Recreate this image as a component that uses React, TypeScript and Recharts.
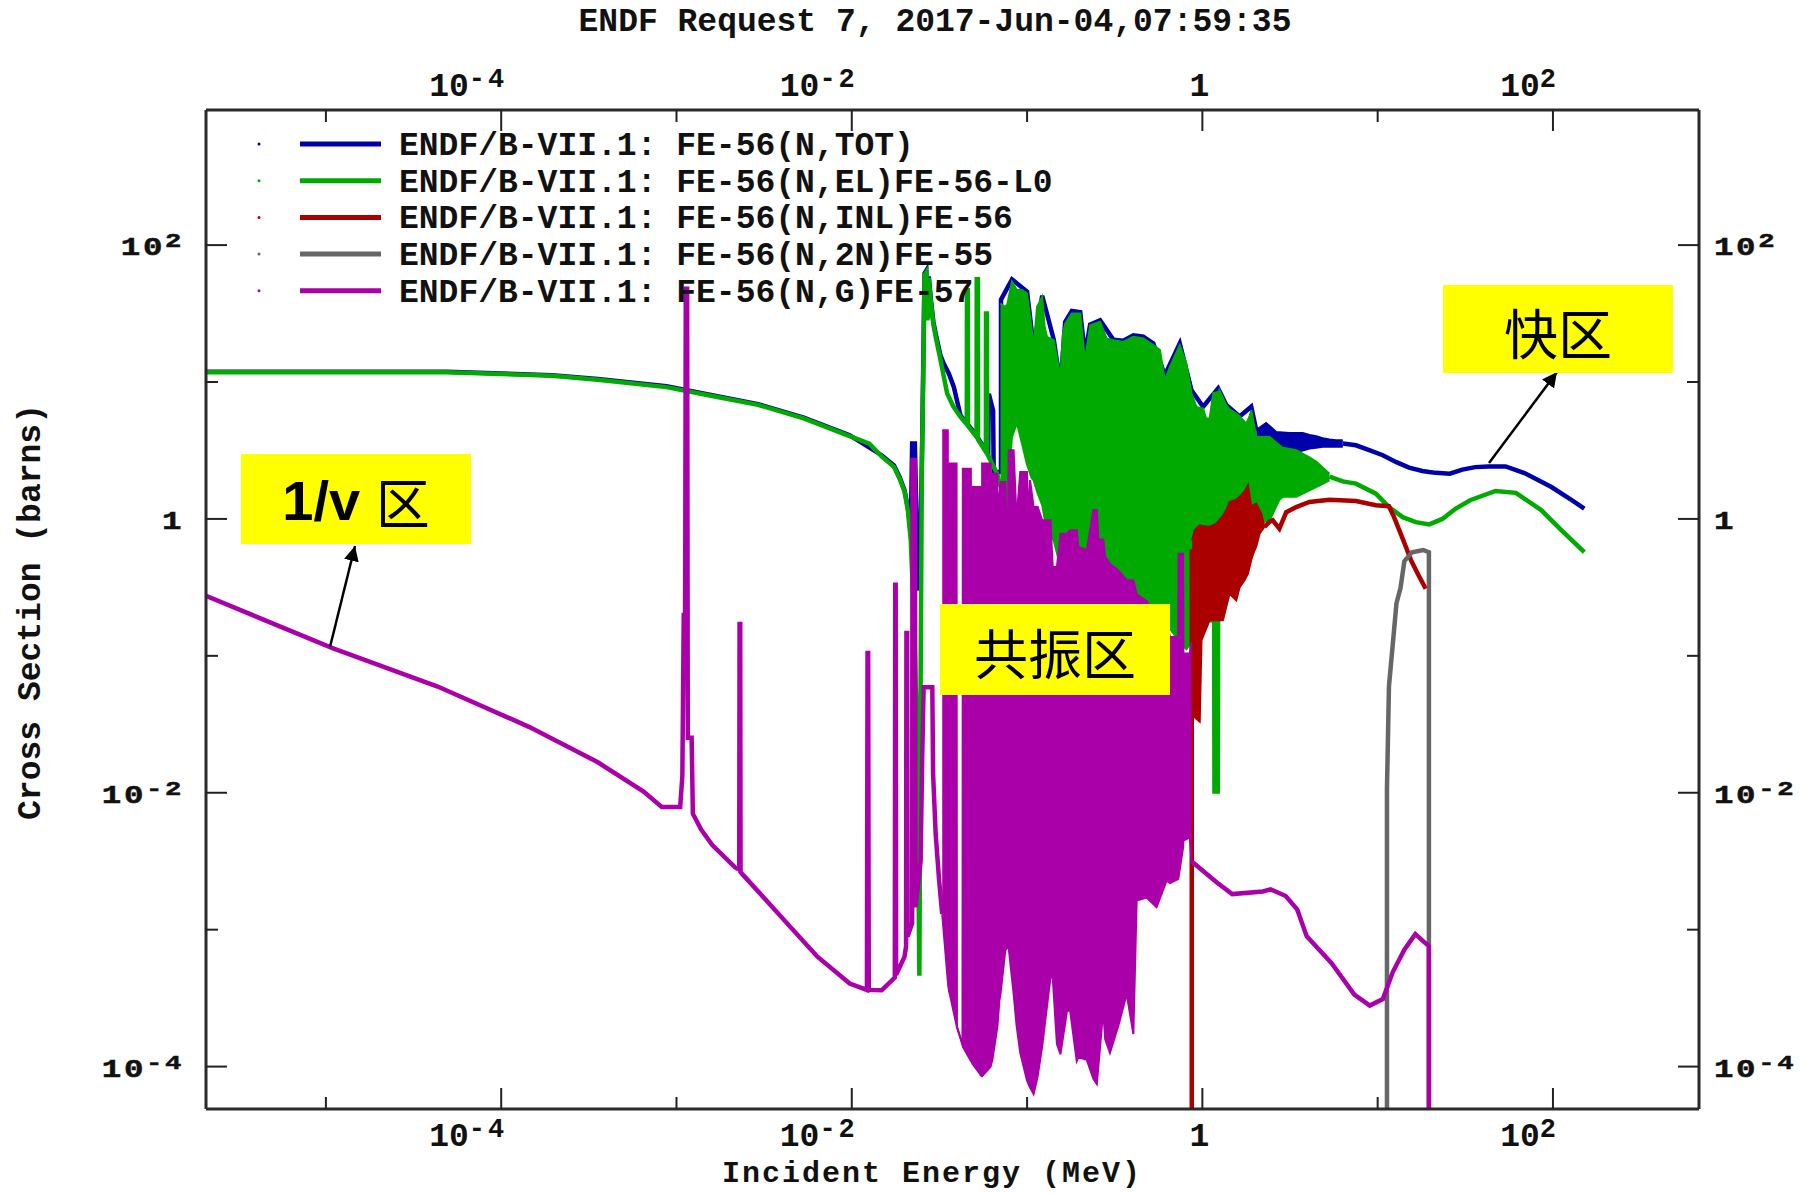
import React from 'react';
import { ComposedChart, Line, Area, XAxis, YAxis } from 'recharts';

const W = 1812;
const H = 1193;

// axis ranges (MeV, barns)
const energyDomain: [number, number] = [2.07e-6, 681];
const xsDomain: [number, number] = [4.9e-5, 970];
const energyTicks = [1e-5, 1e-4, 1e-3, 1e-2, 1e-1, 1, 10, 100];
const xsTicks = [1e-4, 1e-3, 1e-2, 1e-1, 1, 10, 100];

const COLORS = {
  tot: '#0000aa',
  el: '#00aa00',
  inl: '#aa0000',
  n2n: '#666666',
  ng: '#aa00aa',
};

const legendLabels = [
  'ENDF/B-VII.1: FE-56(N,TOT)',
  'ENDF/B-VII.1: FE-56(N,EL)FE-56-L0',
  'ENDF/B-VII.1: FE-56(N,INL)FE-56',
  'ENDF/B-VII.1: FE-56(N,2N)FE-55',
  'ENDF/B-VII.1: FE-56(N,G)FE-57',
];
const legendColors = [COLORS.tot, COLORS.el, COLORS.inl, COLORS.n2n, COLORS.ng];

// ---- FE-56(N,TOT) ----
const totalLow: [number, number][] = [
  [2.07e-6, 11.9], [4.89e-5, 11.9], [1.95e-4, 11.2], [3.56e-4, 10.5], [8.77e-4, 9.3],
  [1.6e-3, 8.0], [2.92e-3, 6.9], [5.32e-3, 5.5], [9.73e-3, 4.08], [1.48e-2, 2.92],
  [1.74e-2, 2.46], [1.88e-2, 2.0], [2.0e-2, 1.62], [2.09e-2, 1.2], [2.17e-2, 0.79],
  [2.21e-2, 3.55], [2.29e-2, 3.55], [2.36e-2, 0.6], [2.43e-2, 0.3], [2.51e-2, 2.5],
  [2.6e-2, 62], [2.66e-2, 65], [2.7e-2, 29], [2.75e-2, 59], [2.82e-2, 41],
  [2.92e-2, 27.5], [3.01e-2, 22.5], [3.21e-2, 15.5], [3.35e-2, 13.6], [3.58e-2, 11.5],
  [3.82e-2, 9.2], [4.17e-2, 5.7], [4.97e-2, 4.3], [6.0e-2, 3.0], [6.05e-2, 8.2],
  [6.4e-2, 6.2], [6.45e-2, 2.2], [7.1e-2, 2.2], [7.1e-2, 40], [8.2e-2, 56.2],
  [0.1, 45.7], [0.109, 17.8], [0.122, 42.7], [0.142, 20.4], [0.155, 9.5],
  [0.165, 27.5], [0.18, 33.1], [0.201, 32.4], [0.214, 15.8], [0.229, 26.3],
  [0.261, 28.2], [0.31, 20.4], [0.354, 20.0], [0.404, 21.9], [0.46, 21.4],
  [0.525, 19.1], [0.611, 11.2], [0.743, 19.1], [0.867, 8.7], [1.01, 6.6],
  [1.23, 9.0], [1.37, 6.8], [1.63, 5.6], [1.9, 6.6], [2.03, 4.45],
];
const totalBand: [number, number, number][] = [
  [2.03, 3.36, 4.45], [2.31, 3.55, 5.02], [2.64, 3.36, 4.32], [3.14, 3.16, 4.25],
  [3.43, 3.08, 4.25], [3.74, 3.16, 4.25], [4.08, 3.27, 4.11], [4.46, 3.31, 4.02],
  [4.86, 3.36, 3.89], [5.31, 3.36, 3.8], [5.79, 3.36, 3.76], [6.32, 3.36, 3.76],
];
const totalFast: [number, number][] = [
  [6.32, 3.55], [7.52, 3.45], [8.95, 3.18], [10.7, 2.92], [12.7, 2.61], [15.1, 2.37],
  [18.0, 2.24], [19.7, 2.2], [21.4, 2.17], [25.8, 2.14], [30.4, 2.29], [36.0, 2.39],
  [42.7, 2.42], [53.7, 2.42], [70.1, 2.14], [98.0, 1.71], [128, 1.37], [151, 1.19],
];

// ---- FE-56(N,EL) ----
const elasticLow: [number, number][] = [
  [2.07e-6, 11.8], [4.89e-5, 11.8], [1.95e-4, 11.1], [3.56e-4, 10.4], [8.77e-4, 9.18],
  [1.6e-3, 7.91], [2.92e-3, 6.81], [5.32e-3, 5.43], [9.73e-3, 4.02], [1.26e-2, 3.55],
  [1.48e-2, 2.86], [1.74e-2, 2.4], [1.88e-2, 1.95], [2.0e-2, 1.58], [2.09e-2, 1.15],
  [2.17e-2, 0.698], [2.26e-2, 0.2], [2.36e-2, 0.0251], [2.43e-2, 4.61e-4], [2.47e-2, 0.0631],
  [2.51e-2, 2.4], [2.56e-2, 12.6], [2.6e-2, 60.3], [2.66e-2, 63.1], [2.7e-2, 28.2],
  [2.75e-2, 57.5], [2.82e-2, 39.8], [2.92e-2, 26.3], [3.01e-2, 21.4], [3.21e-2, 14.4],
  [3.5e-2, 8.24], [3.8e-2, 6.61], [4.17e-2, 5.56], [4.53e-2, 4.9], [4.54e-2, 46.8],
  [4.59e-2, 46.8], [4.6e-2, 4.79], [4.97e-2, 4.2], [5.15e-2, 3.98], [5.16e-2, 56.2],
  [5.24e-2, 56.2], [5.25e-2, 3.8], [5.82e-2, 3.09], [5.83e-2, 31.6], [5.9e-2, 31.6],
  [5.92e-2, 3.0], [6.75e-2, 2.14], [7.05e-2, 1.71],
];
const elasticBand: [number, number, number][] = [
  [7.05e-2, 1.7, 37.5], [7.41e-2, 1.12, 35.5], [7.69e-2, 1.26, 36.4], [8.2e-2, 3.98, 54.0],
  [8.75e-2, 5.01, 46.9], [9.35e-2, 3.55, 46.9], [9.98e-2, 2.51, 44.4], [0.106, 2.0, 25.1],
  [0.109, 1.91, 18.1], [0.114, 1.58, 35.5], [0.122, 1.26, 41.9], [0.126, 1.0, 25.1],
  [0.13, 0.871, 21.4], [0.142, 0.692, 20.2], [0.155, 0.447, 10.9], [0.16, 0.501, 22.4],
  [0.165, 0.631, 26.7], [0.18, 0.708, 31.6], [0.201, 0.562, 31.6], [0.214, 0.501, 14.4],
  [0.229, 0.501, 26.0], [0.261, 0.447, 27.5], [0.284, 0.398, 20.8], [0.31, 0.398, 20.2],
  [0.354, 0.355, 19.6], [0.404, 0.282, 21.4], [0.46, 0.251, 20.8], [0.525, 0.2, 18.6],
  [0.573, 0.178, 17.1], [0.611, 0.158, 10.3], [0.653, 0.158, 12.9], [0.743, 0.126, 18.6],
  [0.811, 0.112, 13.6], [0.867, 0.126, 8.24], [0.925, 0.0794, 6.58], [1.01, 0.282, 6.4],
  [1.05, 0.2, 5.41], [1.1, 0.178, 5.41], [1.148, 0.178, 7.94], [1.153, 0.01, 8.32],
  [1.245, 0.01, 8.51], [1.25, 0.182, 8.71], [1.37, 0.251, 6.76], [1.43, 0.318, 6.31],
  [1.56, 0.398, 5.89], [1.63, 0.446, 5.62], [1.78, 0.479, 4.97], [1.86, 0.498, 5.62],
  [1.9, 0.631, 6.22], [2.03, 0.923, 3.97], [2.42, 0.977, 3.97], [2.75, 1.38, 3.45],
  [2.88, 1.45, 3.31], [3.43, 1.45, 3.18], [4.08, 1.62, 2.82], [4.46, 1.71, 2.63],
  [5.31, 1.91, 2.14],
];
const elasticFast: [number, number][] = [
  [5.31, 2.04], [6.32, 1.88], [7.52, 1.81], [9.77, 1.53], [11.6, 1.22], [13.9, 1.03],
  [16.5, 0.948], [19.7, 0.912], [23.4, 1.0], [27.9, 1.19], [33.7, 1.37], [47.0, 1.6],
  [61.5, 1.55], [85.7, 1.16], [112, 0.826], [151, 0.573],
];

// ---- FE-56(N,INL) ----
const inelasticEdge: [number, number][] = [[0.87, 1e-5], [0.87, 0.6]];
const inelasticBand: [number, number, number][] = [
  [0.875, 0.0378, 0.698], [0.905, 0.0355, 0.826], [0.966, 0.0331, 0.897], [0.989, 0.13, 0.891],
  [1.1, 0.182, 0.873], [1.2, 0.182, 0.923], [1.31, 0.182, 1.05], [1.37, 0.229, 1.16],
  [1.43, 0.284, 1.33], [1.56, 0.254, 1.38], [1.63, 0.316, 1.45], [1.74, 0.356, 1.58],
  [1.82, 0.398, 1.76], [1.9, 0.501, 1.22], [1.95, 0.557, 1.26], [2.03, 0.631, 1.29],
  [2.12, 0.78, 1.15], [2.17, 0.813, 1.09], [2.26, 0.873, 0.873],
];
const inelasticTail: [number, number][] = [
  [2.26, 0.873], [2.42, 0.955], [2.52, 0.977], [2.75, 0.849], [3.01, 1.12], [3.43, 1.22],
  [4.08, 1.33], [5.31, 1.38], [7.52, 1.35], [9.77, 1.26], [11.6, 1.24], [12.4, 1.03],
  [13.3, 0.826], [14.5, 0.624], [15.5, 0.498], [17.3, 0.377], [18.8, 0.309],
];

// ---- FE-56(N,2N) ----
const n2nCurve: [number, number][] = [
  [11.3, 1e-5], [11.3, 0.0107], [11.6, 0.06], [12.2, 0.122], [12.8, 0.242], [13.5, 0.313],
  [14.2, 0.492], [15.7, 0.571], [18.2, 0.593], [19.6, 0.571], [19.6, 1e-5],
];

// ---- FE-56(N,G) ----
const captureLow: [number, number][] = [
  [2.07e-6, 0.274], [1.09e-5, 0.114], [4.34e-5, 0.0597], [1.44e-4, 0.0303], [3.56e-4, 0.0167],
  [6.49e-4, 0.0102], [8.24e-4, 7.87e-3], [1.05e-3, 7.87e-3], [1.08e-3, 0.0133], [1.1e-3, 0.199],
  [1.12e-3, 0.199], [1.13e-3, 47.9], [1.15e-3, 47.9], [1.16e-3, 0.0252], [1.22e-3, 0.0252],
  [1.24e-3, 7.03e-3], [1.38e-3, 5.4e-3], [1.6e-3, 4.15e-3], [2.16e-3, 2.85e-3], [2.28e-3, 2.75e-3],
  [2.29e-3, 0.171], [2.31e-3, 0.171], [2.32e-3, 2.63e-3], [2.44e-3, 2.45e-3], [3.94e-3, 1.25e-3],
  [6.37e-3, 6.35e-4], [9.73e-3, 4.04e-4], [1.22e-2, 3.63e-4], [1.23e-2, 0.105], [1.24e-2, 0.105],
  [1.25e-2, 3.63e-4], [1.48e-2, 3.61e-4], [1.76e-2, 4.47e-4], [1.77e-2, 0.33], [1.78e-2, 0.33],
  [1.79e-2, 4.68e-4], [2.0e-2, 6.35e-4], [2.04e-2, 7.59e-4], [2.05e-2, 0.147], [2.07e-2, 0.147],
  [2.08e-2, 8.91e-4], [2.17e-2, 1.04e-3], [2.21e-2, 1.12e-3], [2.22e-2, 2.69], [2.29e-2, 2.69],
  [2.31e-2, 1.46e-3], [2.47e-2, 3.19e-3], [2.52e-2, 0.0172], [2.57e-2, 0.0589], [2.88e-2, 0.059],
  [2.91e-2, 0.0137], [3.01e-2, 5.0e-3], [3.15e-2, 2.28e-3], [3.28e-2, 1.3e-3],
];
const captureBand: [number, number, number][] = [
  [3.28e-2, 1.3e-3, 4.45], [3.53e-2, 4.2e-4, 4.45], [3.55e-2, 4.0e-4, 4.0e-4], [3.6e-2, 3.5e-4, 3.5e-4],
  [3.62e-2, 3.4e-4, 2.54], [3.96e-2, 2.0e-4, 2.54], [3.98e-2, 1.95e-4, 1.95e-4], [4.28e-2, 1.45e-4, 1.45e-4],
  [4.3e-2, 1.4e-4, 2.33], [4.78e-2, 1.1e-4, 2.33], [4.8e-2, 1.1e-4, 4e-4], [4.88e-2, 1.05e-4, 4e-4],
  [4.9e-2, 1.04e-4, 1.71], [5.4e-2, 8.8e-5, 1.71], [5.42e-2, 8.7e-5, 3e-4], [5.52e-2, 8.5e-5, 3e-4],
  [5.54e-2, 8.5e-5, 2.54], [6.2e-2, 1.0e-4, 2.54], [6.22e-2, 1.03e-4, 5e-4], [6.32e-2, 1.1e-4, 5e-4],
  [6.34e-2, 1.12e-4, 2.14], [6.76e-2, 1.93e-4, 2.14], [6.78e-2, 2.0e-4, 1e-3], [6.92e-2, 2.8e-4, 1e-3],
  [6.94e-2, 3.0e-4, 1.5],
  [7.05e-2, 3.39e-4, 1.86], [7.52e-2, 7.08e-4, 1.86], [7.76e-2, 7.41e-4, 0.501],
  [7.85e-2, 7.41e-4, 3.17], [8.38e-2, 3.39e-4, 3.17], [8.71e-2, 2.0e-4, 1.0], [9.14e-2, 1.26e-4, 2.2],
  [9.98e-2, 7.94e-5, 2.2], [0.102, 7.41e-5, 1.0], [0.104, 7.03e-5, 1.92], [0.109, 6.3e-5, 1.22],
  [0.115, 8.51e-5, 1.22], [0.122, 1.41e-4, 0.977], [0.136, 4.47e-4, 0.977], [0.14, 4.47e-4, 0.447],
  [0.148, 1.46e-4, 0.446], [0.155, 1.23e-4, 0.78], [0.169, 2.56e-4, 0.78], [0.176, 2.56e-4, 0.826],
  [0.192, 1.1e-4, 0.826], [0.196, 1.17e-4, 0.624], [0.219, 1.12e-4, 0.59], [0.239, 8.13e-5, 1.16],
  [0.25, 7.45e-5, 1.16], [0.255, 1.0e-4, 0.708], [0.272, 2.56e-4, 0.708], [0.279, 1.58e-4, 0.527],
  [0.297, 1.26e-4, 0.471], [0.332, 2.0e-4, 0.421], [0.37, 3.39e-4, 0.356], [0.404, 1.73e-4, 0.356],
  [0.422, 1.63e-3, 0.282], [0.481, 1.72e-3, 0.251], [0.548, 1.46e-3, 0.2], [0.625, 2.28e-3, 0.178],
  [0.653, 2.19e-3, 0.137], [0.728, 2.34e-3, 0.137], [0.731, 2.4e-3, 0.557], [0.776, 3.98e-3, 0.557],
  [0.78, 4.47e-3, 0.104], [0.847, 4.73e-3, 0.104], [0.867, 3.16e-3, 0.126],
];
const captureFast: [number, number][] = [
  [0.867, 3.16e-3], [1.05, 2.57e-3], [1.21, 2.21e-3], [1.48, 1.82e-3], [2.21, 1.9e-3],
  [2.45, 1.97e-3], [2.99, 1.76e-3], [3.48, 1.4e-3], [3.94, 8.93e-4], [5.46, 5.69e-4],
  [7.36, 3.36e-4], [9.02, 2.79e-4], [10.7, 3.11e-4], [12.2, 4.9e-4], [14.2, 7.14e-4],
  [16.4, 9.27e-4], [18.7, 7.98e-4], [19.6, 7.59e-4], [19.6, 1e-5],
];

const toLine = (pts: [number, number][]) => pts.map(([e, s]) => ({ e, s }));
const toBand = (pts: [number, number, number][]) => pts.map(([e, lo, hi]) => ({ e, band: [lo, hi] }));

const MONO = '"Liberation Mono", "DejaVu Sans Mono", monospace';
const TICK = '#222';

const expOf = (v: number) => Math.round(Math.log10(v));

// x tick label: "10" with superscript
function XLabel({ x, y, exp }: { x: number; y: number; exp: number }) {
  const st = { fontFamily: MONO, fontWeight: 700, fontSize: 33, fill: '#111' } as const;
  if (exp === 0) {
    return <text x={x - 3} y={y} textAnchor="middle" style={st}>1</text>;
  }
  return (
    <text x={x + 6} y={y} textAnchor="end" style={st}>
      10<tspan dy={-9} fontSize={27} letterSpacing={3}>{exp}</tspan>
    </text>
  );
}

// y tick label: wider, shorter glyphs
function YLabel({ x, y, exp, anchor }: { x: number; y: number; exp: number; anchor: 'start' | 'end' }) {
  const st = { fontFamily: MONO, fontWeight: 700, fontSize: 25, fill: '#111', letterSpacing: 2 } as const;
  return (
    <g transform={`translate(${x}, ${y}) scale(1.3, 1)`}>
      <text x={0} y={0} textAnchor={anchor} style={st} stroke="#111" strokeWidth={0.5}>
        {exp === 0 ? '1' : '10'}
        {exp !== 0 && <tspan dy={-8} fontSize={21}>{exp}</tspan>}
      </text>
    </g>
  );
}

const BottomTick = (props: any) => {
  const { x, y, payload } = props;
  const exp = expOf(payload.value);
  const major = exp % 2 === 0;
  return (
    <g>
      <line x1={x} x2={x} y1={y} y2={y - (major ? 21 : 12)} stroke={TICK} strokeWidth={2} />
      {major && <XLabel x={x} y={y + 37} exp={exp} />}
    </g>
  );
};

const TopTick = (props: any) => {
  const { x, y, payload } = props;
  const exp = expOf(payload.value);
  const major = exp % 2 === 0;
  return (
    <g>
      <line x1={x} x2={x} y1={y} y2={y + (major ? 21 : 12)} stroke={TICK} strokeWidth={2} />
      {major && <XLabel x={x} y={y - 14} exp={exp} />}
    </g>
  );
};

const LeftTick = (props: any) => {
  const { x, y, payload } = props;
  const exp = expOf(payload.value);
  const major = exp % 2 === 0;
  return (
    <g>
      <line x1={x} x2={x + (major ? 21 : 12)} y1={y} y2={y} stroke={TICK} strokeWidth={2} />
      {major && <YLabel x={x - 22} y={y + 10} exp={exp} anchor="end" />}
    </g>
  );
};

const RightTick = (props: any) => {
  const { x, y, payload } = props;
  const exp = expOf(payload.value);
  const major = exp % 2 === 0;
  return (
    <g>
      <line x1={x} x2={x - (major ? 21 : 12)} y1={y} y2={y} stroke={TICK} strokeWidth={2} />
      {major && <YLabel x={x + 15} y={y + 10} exp={exp} anchor="start" />}
    </g>
  );
};

const frameLine = { stroke: '#2a2a2a', strokeWidth: 3 };

const seriesCommon = {
  xAxisId: 'bottom',
  yAxisId: 'left',
  isAnimationActive: false,
  dot: false,
  activeDot: false,
  legendType: 'none' as const,
};

export default function App() {
  const lw = 4.5;
  const bw = 2;
  return (
    <div style={{ position: 'absolute', left: 0, top: 0, width: W, height: H, background: '#fff' }}>
      <ComposedChart width={W} height={H} margin={{ top: 0, right: 0, bottom: 0, left: 0 }}>
        <XAxis
          xAxisId="bottom"
          orientation="bottom"
          dataKey="e"
          type="number"
          scale="log"
          domain={energyDomain}
          allowDataOverflow
          ticks={energyTicks}
          interval={0}
          height={84}
          tick={BottomTick}
          tickLine={false}
          tickSize={0}
          tickMargin={0}
          axisLine={frameLine}
        />
        <XAxis
          xAxisId="top"
          orientation="top"
          dataKey="e"
          type="number"
          scale="log"
          domain={energyDomain}
          allowDataOverflow
          ticks={energyTicks}
          interval={0}
          height={110}
          tick={TopTick}
          tickLine={false}
          tickSize={0}
          tickMargin={0}
          axisLine={frameLine}
        />
        <YAxis
          yAxisId="left"
          orientation="left"
          type="number"
          scale="log"
          domain={xsDomain}
          allowDataOverflow
          ticks={xsTicks}
          interval={0}
          width={206}
          tick={LeftTick}
          tickLine={false}
          tickSize={0}
          tickMargin={0}
          axisLine={frameLine}
        />
        <YAxis
          yAxisId="right"
          orientation="right"
          type="number"
          scale="log"
          domain={xsDomain}
          allowDataOverflow
          ticks={xsTicks}
          interval={0}
          width={113}
          tick={RightTick}
          tickLine={false}
          tickSize={0}
          tickMargin={0}
          axisLine={frameLine}
        />

        {/* total */}
        <Line {...seriesCommon} zIndex={401} data={toLine(totalLow)} dataKey="s" stroke={COLORS.tot} strokeWidth={lw} type="linear" />
        <Area {...seriesCommon} zIndex={402} data={toBand(totalBand)} dataKey="band" stroke={COLORS.tot} strokeWidth={bw} fill={COLORS.tot} fillOpacity={1} type="linear" />
        <Line {...seriesCommon} zIndex={403} data={toLine(totalFast)} dataKey="s" stroke={COLORS.tot} strokeWidth={lw} type="linear" />

        {/* elastic */}
        <Line {...seriesCommon} zIndex={404} data={toLine(elasticLow)} dataKey="s" stroke={COLORS.el} strokeWidth={lw} type="linear" />
        <Area {...seriesCommon} zIndex={405} data={toBand(elasticBand)} dataKey="band" stroke={COLORS.el} strokeWidth={bw} fill={COLORS.el} fillOpacity={1} type="linear" />
        <Line {...seriesCommon} zIndex={406} data={toLine(elasticFast)} dataKey="s" stroke={COLORS.el} strokeWidth={lw} type="linear" />

        {/* inelastic */}
        <Line {...seriesCommon} zIndex={407} data={toLine(inelasticEdge)} dataKey="s" stroke={COLORS.inl} strokeWidth={lw} type="linear" />
        <Area {...seriesCommon} zIndex={408} data={toBand(inelasticBand)} dataKey="band" stroke={COLORS.inl} strokeWidth={bw} fill={COLORS.inl} fillOpacity={1} type="linear" />
        <Line {...seriesCommon} zIndex={409} data={toLine(inelasticTail)} dataKey="s" stroke={COLORS.inl} strokeWidth={lw} type="linear" />

        {/* n,2n */}
        <Line {...seriesCommon} zIndex={410} data={toLine(n2nCurve)} dataKey="s" stroke={COLORS.n2n} strokeWidth={lw} type="linear" />

        {/* capture */}
        <Line {...seriesCommon} zIndex={411} data={toLine(captureLow)} dataKey="s" stroke={COLORS.ng} strokeWidth={lw} type="linear" />
        <Area {...seriesCommon} zIndex={412} data={toBand(captureBand)} dataKey="band" stroke={COLORS.ng} strokeWidth={bw} fill={COLORS.ng} fillOpacity={1} type="linear" />
        <Line {...seriesCommon} zIndex={413} data={toLine(captureFast)} dataKey="s" stroke={COLORS.ng} strokeWidth={lw} type="linear" />
      </ComposedChart>

      <svg width={W} height={H} style={{ position: 'absolute', left: 0, top: 0, pointerEvents: 'none' }}>
        <defs>
          <marker id="arrowHead" viewBox="0 0 10 10" refX="10" refY="5" markerWidth="6" markerHeight="6" orient="auto">
            <path d="M0,0 L10,5 L0,10 z" fill="#000" />
          </marker>
        </defs>

        <text x={935} y={31} textAnchor="middle" fontFamily={MONO} fontWeight={700} fontSize={33} fill="#111">
          ENDF Request 7, 2017-Jun-04,07:59:35
        </text>
        <text x={932} y={1182} textAnchor="middle" fontFamily={MONO} fontWeight={700} fontSize={30} letterSpacing={2} fill="#111">
          Incident Energy (MeV)
        </text>
        <text transform="translate(40, 612) rotate(-90)" textAnchor="middle" fontFamily={MONO} fontWeight={700} fontSize={33} fill="#111">
          Cross Section (barns)
        </text>

        {legendLabels.map((label, i) => {
          const cy = 144 + i * 36.7;
          return (
            <g key={label}>
              <circle cx={259} cy={cy} r={1.5} fill={legendColors[i]} />
              <line x1={300} x2={381} y1={cy} y2={cy} stroke={legendColors[i]} strokeWidth={5} />
              <text x={399} y={cy + 11} fontFamily={MONO} fontWeight={700} fontSize={33} fill="#111">
                {label}
              </text>
            </g>
          );
        })}

        {/* region annotations */}
        <line x1={330} y1={647} x2={355} y2={546} stroke="#000" strokeWidth={2.5} markerEnd="url(#arrowHead)" />
        <rect x={241} y={454} width={230} height={90} fill="#ffff00" />
        <text x={356} y={500} textAnchor="middle" dominantBaseline="central" fill="#000">
          <tspan fontFamily='"Liberation Sans", Arial, sans-serif' fontWeight={700} fontSize={56}>1/v </tspan>
          <tspan fontFamily='"Noto Sans CJK SC", sans-serif' fontSize={54}>区</tspan>
        </text>

        <rect x={940} y={604} width={230} height={91} fill="#ffff00" />
        <text x={1055} y={651} textAnchor="middle" dominantBaseline="central" fontFamily='"Noto Sans CJK SC", sans-serif' fontSize={54} fill="#000">
          共振区
        </text>

        <line x1={1489} y1={463} x2={1557} y2={372} stroke="#000" strokeWidth={2.5} markerEnd="url(#arrowHead)" />
        <rect x={1443} y={285} width={230} height={88} fill="#ffff00" />
        <text x={1558} y={331} textAnchor="middle" dominantBaseline="central" fontFamily='"Noto Sans CJK SC", sans-serif' fontSize={54} fill="#000">
          快区
        </text>
      </svg>
    </div>
  );
}
